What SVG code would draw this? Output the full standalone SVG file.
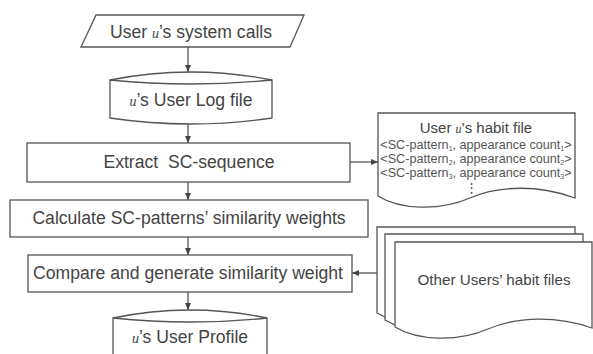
<svg xmlns="http://www.w3.org/2000/svg" width="593" height="354" viewBox="0 0 593 354">
<defs>
<style>
.s{fill:#fff;stroke:#555;stroke-width:1.3}
.t{font-family:"Liberation Sans",Arial,sans-serif;font-size:17.6px;fill:#444;text-anchor:middle}
.sm{font-family:"Liberation Sans",Arial,sans-serif;font-size:12.6px;fill:#555;text-anchor:middle}
.u{font-family:"Liberation Serif",serif;font-style:italic;font-size:14px}
.c{stroke:#555;stroke-width:1.3;fill:none}
</style>
<marker id="ah" markerWidth="8" markerHeight="8" refX="7" refY="4" orient="auto" markerUnits="userSpaceOnUse">
<path d="M0,1 L7,4 L0,7 z" fill="#444"/>
</marker>
</defs>
<rect width="593" height="354" fill="#fff"/>
<g id="calls">
<path class="s" d="M96,15 L304,15 L290,47 L81,47 Z"/>
<text class="t" x="191" y="38">User <tspan class="u">u</tspan>’s system calls</text>
</g>
<g id="logfile">
<path class="s" d="M110,80 Q191,64 272,80 L272,118 Q191,130 110,118 Z"/>
<path class="c" d="M110,80 Q191,88 272,80"/>
<text class="t" x="191" y="106"><tspan class="u">u</tspan>’s User Log file</text>
</g>
<g id="extract">
<rect class="s" x="27" y="143" width="323" height="39"/>
<text class="t" x="189" y="168" xml:space="preserve">Extract  SC-sequence</text>
</g>
<g id="calculate">
<rect class="s" x="10" y="200" width="358" height="37"/>
<text class="t" x="189" y="224">Calculate SC-patterns’ similarity weights</text>
</g>
<g id="compare">
<rect class="s" x="28" y="255" width="324" height="37"/>
<text class="t" x="188" y="279">Compare and generate similarity weight</text>
</g>
<g id="profile">
<path class="s" d="M113,318 Q190,302 267,318 L267,356 L113,356 Z"/>
<path class="c" d="M113,318 Q190,326 267,318"/>
<text class="t" x="190" y="343"><tspan class="u">u</tspan>’s User Profile</text>
</g>
<g id="habit">
<path class="s" d="M378,113 L575,113 L575,198 C540,185 500,185 470,198 C440,211 400,210 378,196 Z"/>
<text class="t" x="476" y="133" style="font-size:15px">User <tspan class="u" style="font-size:12px">u</tspan>’s habit file</text>
<text class="sm" x="476" y="149">&lt;SC-pattern<tspan font-size="7" dy="2">1</tspan><tspan dy="-2">, appearance count</tspan><tspan font-size="7" dy="2">1</tspan><tspan dy="-2">&gt;</tspan></text>
<text class="sm" x="476" y="163">&lt;SC-pattern<tspan font-size="7" dy="2">2</tspan><tspan dy="-2">, appearance count</tspan><tspan font-size="7" dy="2">2</tspan><tspan dy="-2">&gt;</tspan></text>
<text class="sm" x="476" y="177">&lt;SC-pattern<tspan font-size="7" dy="2">3</tspan><tspan dy="-2">, appearance count</tspan><tspan font-size="7" dy="2">3</tspan><tspan dy="-2">&gt;</tspan></text>
<text class="sm" x="471" y="192" style="font-size:13px">⋮</text>
</g>
<g id="others">
<path class="s" d="M377,227 L575,227 L575,315 C540,302 500,302 470,315 C440,328 400,327 377,313 Z"/>
<path class="s" d="M385,234 L583,234 L583,322 C548,309 508,309 478,322 C448,335 408,334 385,320 Z"/>
<path class="s" d="M395,242 L592,242 L592,328 C558,316 518,316 488,329 C458,342 418,341 395,327 Z"/>
<text class="t" x="494" y="285" style="font-size:15.2px">Other Users’ habit files</text>
</g>
<g id="connectors">
<line class="c" x1="188" y1="47" x2="188" y2="72" marker-end="url(#ah)"/>
<line class="c" x1="188" y1="124" x2="188" y2="143" marker-end="url(#ah)"/>
<line class="c" x1="188" y1="182" x2="188" y2="200" marker-end="url(#ah)"/>
<line class="c" x1="188" y1="237" x2="188" y2="255" marker-end="url(#ah)"/>
<line class="c" x1="188" y1="292" x2="188" y2="310" marker-end="url(#ah)"/>
<line class="c" x1="350" y1="162" x2="378" y2="162" marker-end="url(#ah)"/>
<line class="c" x1="377" y1="273" x2="352" y2="273" marker-end="url(#ah)"/>
</g>
</svg>
